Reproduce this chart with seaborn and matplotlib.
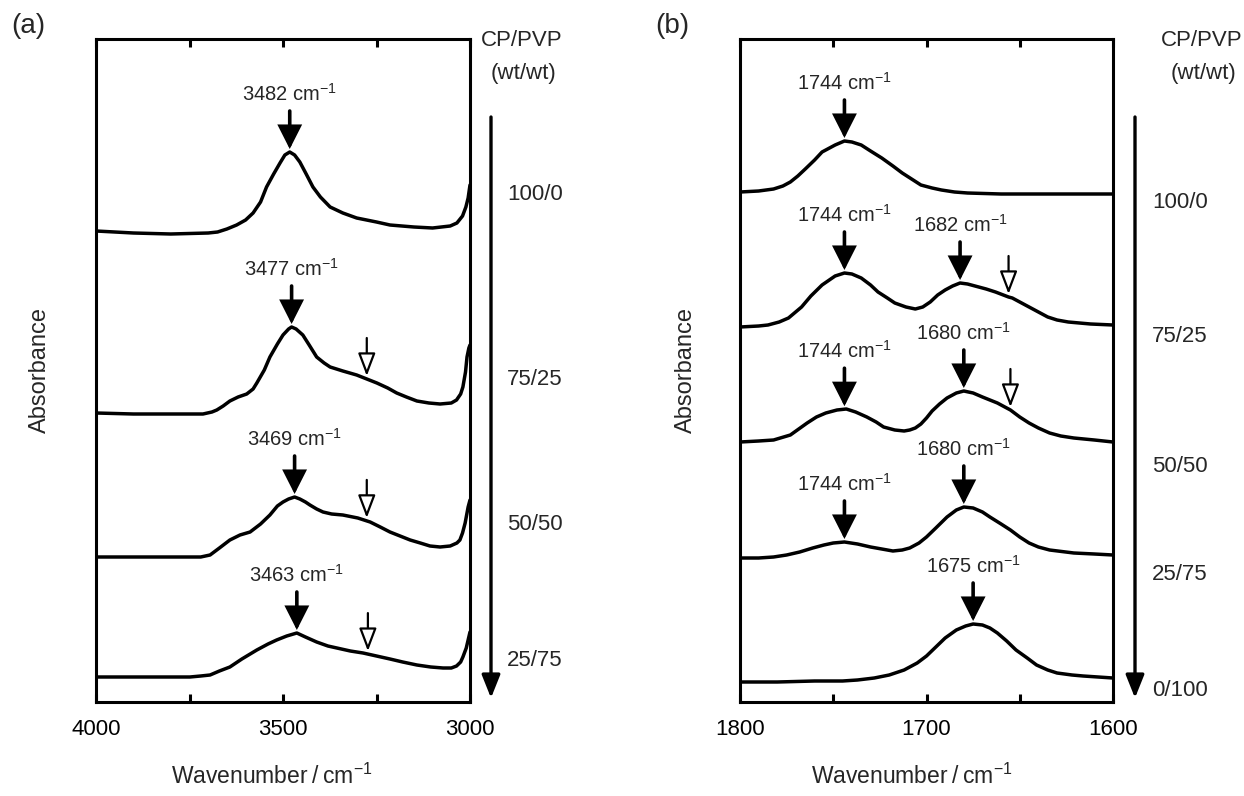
import numpy as np
import pandas as pd
import matplotlib
matplotlib.use("Agg")
import matplotlib.pyplot as plt
import seaborn as sns

# ---------------- data ----------------
ratios_a = ["100/0", "75/25", "50/50", "25/75"]
ratios_b = ["100/0", "75/25", "50/50", "25/75", "0/100"]

# Panel (a): O-H region
wn_a1 = [4000, 3900, 3800, 3700, 3675, 3650, 3624, 3600, 3580, 3560, 3544, 3525, 3508, 3495, 3482, 3469, 3455,
         3438, 3420, 3400, 3374, 3340, 3303, 3250, 3214, 3150, 3100, 3053, 3035, 3020, 3011, 3005, 3000]
abs_a1 = [4.71, 4.69, 4.68, 4.69, 4.70, 4.73, 4.77, 4.82, 4.89, 5.00, 5.15, 5.28, 5.39, 5.47, 5.50, 5.47, 5.40,
          5.28, 5.15, 5.05, 4.95, 4.89, 4.84, 4.80, 4.77, 4.75, 4.74, 4.76, 4.79, 4.86, 4.95, 5.04, 5.17]

wn_a2 = [4000, 3900, 3800, 3714, 3690, 3677, 3660, 3642, 3620, 3597, 3580, 3570, 3550, 3535, 3515, 3500,
         3485, 3477, 3465, 3447, 3430, 3410, 3390, 3374, 3340, 3303, 3276, 3249, 3220, 3196, 3170, 3142,
         3110, 3080, 3050, 3036, 3025, 3019, 3012, 3008, 3003, 3000]
abs_a2 = [2.89, 2.88, 2.88, 2.88, 2.90, 2.92, 2.96, 3.01, 3.05, 3.08, 3.13, 3.19, 3.32, 3.45, 3.58, 3.67,
          3.73, 3.75, 3.73, 3.67, 3.57, 3.45, 3.39, 3.35, 3.31, 3.27, 3.23, 3.19, 3.14, 3.09, 3.05, 3.01,
          2.99, 2.98, 2.99, 3.02, 3.08, 3.15, 3.30, 3.45, 3.54, 3.57]

wn_a3 = [4000, 3900, 3800, 3749, 3720, 3695, 3670, 3642, 3615, 3588, 3560, 3535, 3515, 3500, 3485, 3469,
         3455, 3440, 3428, 3410, 3393, 3370, 3340, 3300, 3267, 3240, 3214, 3187, 3160, 3133, 3107, 3080,
         3053, 3035, 3027, 3020, 3013, 3008, 3005, 3000]
abs_a3 = [1.45, 1.45, 1.45, 1.45, 1.45, 1.47, 1.54, 1.62, 1.67, 1.70, 1.78, 1.87, 1.96, 2.00, 2.03, 2.05,
          2.03, 2.00, 1.97, 1.93, 1.90, 1.88, 1.87, 1.84, 1.80, 1.75, 1.70, 1.66, 1.62, 1.59, 1.56, 1.55,
          1.56, 1.59, 1.62, 1.69, 1.79, 1.89, 1.95, 2.02]

wn_a4 = [4000, 3900, 3800, 3749, 3720, 3695, 3670, 3642, 3610, 3570, 3540, 3517, 3490, 3463, 3440, 3410,
         3380, 3356, 3320, 3286, 3250, 3214, 3180, 3142, 3105, 3072, 3050, 3036, 3025, 3019, 3010, 3005, 3000]
abs_a4 = [0.25, 0.25, 0.25, 0.25, 0.26, 0.27, 0.31, 0.35, 0.43, 0.52, 0.58, 0.62, 0.66, 0.69, 0.65, 0.60,
          0.56, 0.54, 0.51, 0.49, 0.46, 0.43, 0.40, 0.37, 0.35, 0.34, 0.34, 0.36, 0.40, 0.45, 0.54, 0.62, 0.70]

# Panel (b): C=O region
wn_b1 = [1800, 1790, 1786, 1782, 1777, 1773, 1769, 1765, 1760, 1756, 1749, 1744, 1740, 1735, 1730, 1724, 1718,
         1713, 1708, 1703, 1697, 1692, 1685, 1678, 1660, 1642, 1620, 1600]
abs_b1 = [5.10, 5.11, 5.12, 5.13, 5.16, 5.20, 5.26, 5.33, 5.42, 5.50, 5.57, 5.61, 5.60, 5.57, 5.51, 5.44, 5.36,
          5.29, 5.23, 5.17, 5.14, 5.12, 5.10, 5.09, 5.08, 5.08, 5.08, 5.08]

wn_b2 = [1800, 1790, 1785, 1779, 1774, 1767, 1762, 1756, 1749, 1744, 1740, 1735, 1730, 1726, 1721, 1717,
         1711, 1706, 1702, 1698, 1694, 1690, 1686, 1682, 1678, 1674, 1668, 1663, 1656, 1654, 1650, 1645, 1640,
         1635, 1630, 1624, 1612, 1600]
abs_b2 = [3.75, 3.76, 3.77, 3.80, 3.84, 3.95, 4.06, 4.17, 4.26, 4.29, 4.28, 4.24, 4.17, 4.10, 4.04, 3.99,
          3.95, 3.93, 3.95, 4.00, 4.07, 4.12, 4.16, 4.19, 4.18, 4.16, 4.13, 4.10, 4.05, 4.04, 4.00, 3.95, 3.90,
          3.85, 3.82, 3.80, 3.78, 3.77]

wn_b3 = [1800, 1790, 1782, 1773, 1764, 1759, 1754, 1748, 1743, 1738, 1732, 1727, 1723, 1717, 1712, 1709,
         1706, 1703, 1700, 1697, 1693, 1689, 1684, 1680, 1675, 1670, 1662, 1655, 1650, 1645, 1640, 1634, 1628,
         1621, 1610, 1600]
abs_b3 = [2.60, 2.61, 2.62, 2.67, 2.79, 2.85, 2.89, 2.92, 2.93, 2.90, 2.85, 2.80, 2.75, 2.72, 2.71, 2.72,
          2.74, 2.78, 2.84, 2.91, 2.98, 3.04, 3.09, 3.11, 3.09, 3.05, 2.99, 2.92, 2.85, 2.79, 2.74, 2.69, 2.66,
          2.64, 2.62, 2.60]

wn_b4 = [1800, 1790, 1782, 1775, 1768, 1761, 1755, 1750, 1744, 1737, 1730, 1724, 1718, 1713, 1709, 1704,
         1700, 1695, 1689, 1684, 1680, 1675, 1670, 1666, 1660, 1655, 1650, 1645, 1640, 1634, 1621, 1610, 1600]
abs_b4 = [1.44, 1.44, 1.45, 1.47, 1.50, 1.54, 1.57, 1.59, 1.60, 1.58, 1.55, 1.53, 1.51, 1.52, 1.54, 1.59,
          1.65, 1.74, 1.85, 1.92, 1.95, 1.94, 1.90, 1.85, 1.78, 1.72, 1.65, 1.59, 1.55, 1.52, 1.49, 1.48, 1.47]

wn_b5 = [1800, 1780, 1760, 1745, 1737, 1728, 1720, 1712, 1705, 1700, 1695, 1690, 1684, 1679, 1675, 1670,
         1666, 1662, 1657, 1652, 1646, 1641, 1635, 1630, 1622, 1616, 1600]
abs_b5 = [0.20, 0.20, 0.21, 0.21, 0.22, 0.24, 0.27, 0.32, 0.39, 0.46, 0.55, 0.64, 0.72, 0.76, 0.78, 0.77,
          0.74, 0.69, 0.61, 0.52, 0.44, 0.37, 0.32, 0.29, 0.27, 0.26, 0.24]

# peak markers: (spectrum index, wavenumber)
peaks_a = [(0, 3482), (1, 3477), (2, 3469), (3, 3463)]
shoulders_a = [(1, 3276), (2, 3276), (3, 3273)]
peaks_b = [(0, 1744), (1, 1744), (1, 1682), (2, 1744), (2, 1680), (3, 1744), (3, 1680), (4, 1675)]
shoulders_b = [(1, 1656), (2, 1655)]

xticks_a = [4000, 3750, 3500, 3250, 3000]
xticklabels_a = ["4000", "", "3500", "", "3000"]
xticks_b = [1800, 1750, 1700, 1650, 1600]
xticklabels_b = ["1800", "", "1700", "", "1600"]

# ---------------- style ----------------
sns.set_theme(style="ticks")
plt.rcParams["font.family"] = ["Liberation Sans", "DejaVu Sans"]
plt.rcParams["mathtext.default"] = "regular"

W, H = 1244, 796
fig = plt.figure(figsize=(W / 100, H / 100), dpi=100)


def fx(px):
    return px / W


def fy(py):
    return 1 - py / H


ax_a = fig.add_axes([fx(96), fy(702), fx(470) - fx(96), fy(39) - fy(702)])
ax_b = fig.add_axes([fx(740), fy(702), fx(1113) - fx(740), fy(39) - fy(702)])

spec_a = [(wn_a1, abs_a1), (wn_a2, abs_a2), (wn_a3, abs_a3), (wn_a4, abs_a4)]
spec_b = [(wn_b1, abs_b1), (wn_b2, abs_b2), (wn_b3, abs_b3), (wn_b4, abs_b4), (wn_b5, abs_b5)]


def make_df(specs, names):
    frames = []
    for (w, a), n in zip(specs, names):
        frames.append(pd.DataFrame({"wn": w, "A": a, "sample": n}))
    return pd.concat(frames, ignore_index=True)


df_a = make_df(spec_a, ratios_a)
df_b = make_df(spec_b, ratios_b)

LW = 2.5


def value_at(spec, wn):
    w, a = spec
    return np.interp(wn, np.asarray(w)[::-1], np.asarray(a)[::-1])


def filled_arrow(ax, spec, wn):
    tip = value_at(spec, wn) + 0.03
    tail = tip + 0.38
    ax.annotate("", xy=(wn, tip), xytext=(wn, tail),
                arrowprops=dict(arrowstyle="-|>,head_length=0.75,head_width=0.38",
                                mutation_scale=18, lw=2.6, color="black",
                                shrinkA=0, shrinkB=0, joinstyle="miter"))
    ax.text(wn, tail + 0.10, f"{wn} cm$^{{-1}}$", ha="center", va="baseline", fontsize=14.5)


def open_arrow(ax, spec, wn):
    tip = value_at(spec, wn) + 0.03
    tail = tip + 0.38
    ax.annotate("", xy=(wn, tip), xytext=(wn, tail),
                arrowprops=dict(arrowstyle="-|>,head_length=1.0,head_width=0.38",
                                mutation_scale=14, lw=1.6, fc="white", ec="black",
                                shrinkA=0, shrinkB=0))


for ax, df, xlim, ticks, tlabels in [
    (ax_a, df_a, (4000, 3000), xticks_a, xticklabels_a),
    (ax_b, df_b, (1800, 1600), xticks_b, xticklabels_b),
]:
    sns.lineplot(data=df, x="wn", y="A", units="sample", estimator=None, color="black",
                 lw=LW, ax=ax, legend=False, sort=False)
    ax.set_xlim(*xlim)
    ax.set_ylim(0, 6.63)
    ax.set_xticks(ticks)
    ax.set_xticklabels(tlabels)
    ax.set_yticks([])
    ax.set_xlabel("")
    ax.set_ylabel("")
    ax.tick_params(axis="x", direction="in", top=True, bottom=True, length=6, width=2.2,
                   labelsize=16, pad=12, colors="black")
    for s in ax.spines.values():
        s.set_linewidth(2.2)
        s.set_color("black")

for i, wn in peaks_a:
    filled_arrow(ax_a, spec_a[i], wn)
for i, wn in shoulders_a:
    open_arrow(ax_a, spec_a[i], wn)
for i, wn in peaks_b:
    filled_arrow(ax_b, spec_b[i], wn)
for i, wn in shoulders_b:
    open_arrow(ax_b, spec_b[i], wn)

# axis titles
for cx in (272, 912):
    fig.text(fx(cx), fy(776), "Wavenumber\u2009/\u2009cm$^{-1}$", ha="center", va="center", fontsize=16.5)
for cx in (40, 686):
    fig.text(fx(cx), fy(370), "Absorbance", ha="center", va="center", rotation=90, fontsize=17)

fig.text(fx(28), fy(26), "(a)", ha="center", va="center", fontsize=20)
fig.text(fx(672), fy(26), "(b)", ha="center", va="center", fontsize=20)

# composition column
label_y_a = [195, 380, 525, 660]
label_y_b = [203, 337, 467, 575, 690]
for hx, ax_x, lab_x, names, ys in [(522, 491, 535, ratios_a, label_y_a),
                                    (1202, 1135, 1180, ratios_b, label_y_b)]:
    fig.text(fx(hx), fy(41), "CP/PVP", ha="center", va="center", fontsize=16)
    fig.text(fx(hx + 2), fy(74), "(wt/wt)", ha="center", va="center", fontsize=16)
    ax_a.annotate("", xy=(fx(ax_x), fy(698)), xycoords="figure fraction",
                  xytext=(fx(ax_x), fy(117)), textcoords="figure fraction",
                  arrowprops=dict(arrowstyle="-|>,head_length=1.0,head_width=0.4",
                                  mutation_scale=14, lw=2.4, color="black",
                                  shrinkA=0, shrinkB=0),
                  annotation_clip=False)
    for n, y in zip(names, ys):
        fig.text(fx(lab_x), fy(y), n, ha="center", va="center", fontsize=16)

fig.savefig("out.png", dpi=100)
